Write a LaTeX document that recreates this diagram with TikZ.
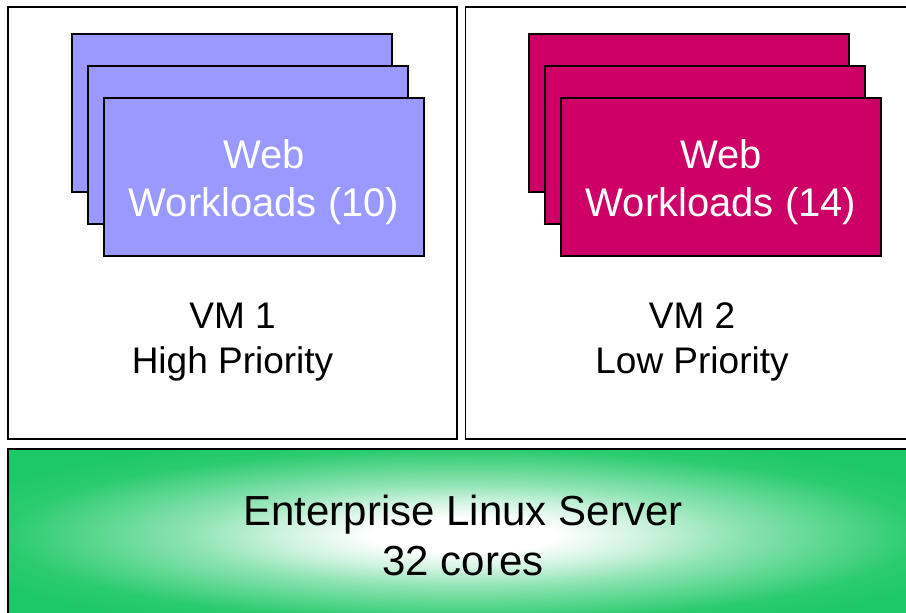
\documentclass[tikz,border=0pt]{standalone}
\usepackage{fontspec}
\setmainfont{Liberation Sans}
\definecolor{wlblue}{HTML}{9999FF}
\definecolor{wlred}{HTML}{CC0066}
\definecolor{srvgreen}{HTML}{1DC866}
\pgfdeclareradialshading{srvglow}{\pgfpoint{0bp}{0bp}}{color(0bp)=(white); color(5bp)=(white); color(10bp)=(srvgreen!22!white); color(15bp)=(srvgreen!50!white); color(25bp)=(srvgreen!94!white); color(30bp)=(srvgreen); color(50bp)=(srvgreen)}
\tikzset{
  vmbox/.style={draw=black, line width=1.5pt, fill=white, inner sep=0pt, minimum width=449pt, minimum height=432pt},
  wlbox/.style={draw=black, line width=1.5pt, inner sep=0pt, minimum width=320pt, minimum height=158pt},
  wltext/.style={text=white, align=center, font=\fontsize{40}{48}\selectfont},
  vmlabel/.style={align=center, font=\fontsize{37}{45}\selectfont},
  srvbox/.style={draw=black, line width=1.5pt, inner sep=0pt, minimum width=910pt, minimum height=172pt, shading=srvglow},
}
\begin{document}
\begin{tikzpicture}[x=1pt,y=-1pt]
\useasboundingbox (0,0) rectangle (906,613);
\clip (0,0) rectangle (906,613);
% VM boxes
\node[vmbox] (vm1) at (232.5,223) {};
\node[vmbox, minimum width=454pt] (vm2) at (692.5,223) {};
% VM 1 workloads
\node[wlbox, fill=wlblue] (b1) at (232,113) {};
\node[wlbox, fill=wlblue] (b2) at (248,145) {};
\node[wlbox, fill=wlblue] (b3) at (264,177) {};
\node[wltext] (b3t) at (264,182) {Web\\Workloads (10)};
% VM 2 workloads
\node[wlbox, fill=wlred] (r1) at (689,113) {};
\node[wlbox, fill=wlred] (r2) at (705,145) {};
\node[wlbox, fill=wlred] (r3) at (721,177) {};
\node[wltext] (r3t) at (721,182) {Web\\Workloads (14)};
% VM labels
\node[vmlabel] (l1) at (232.5,342) {VM 1\\High Priority};
\node[vmlabel] (l2) at (692,342) {VM 2\\Low Priority};
% server
\node[srvbox] (srv) at (463,535) {};
\node[align=center, font=\fontsize{42}{50}\selectfont] (srvt) at (463,535) {Enterprise Linux Server\\32 cores};
\end{tikzpicture}
\end{document}
